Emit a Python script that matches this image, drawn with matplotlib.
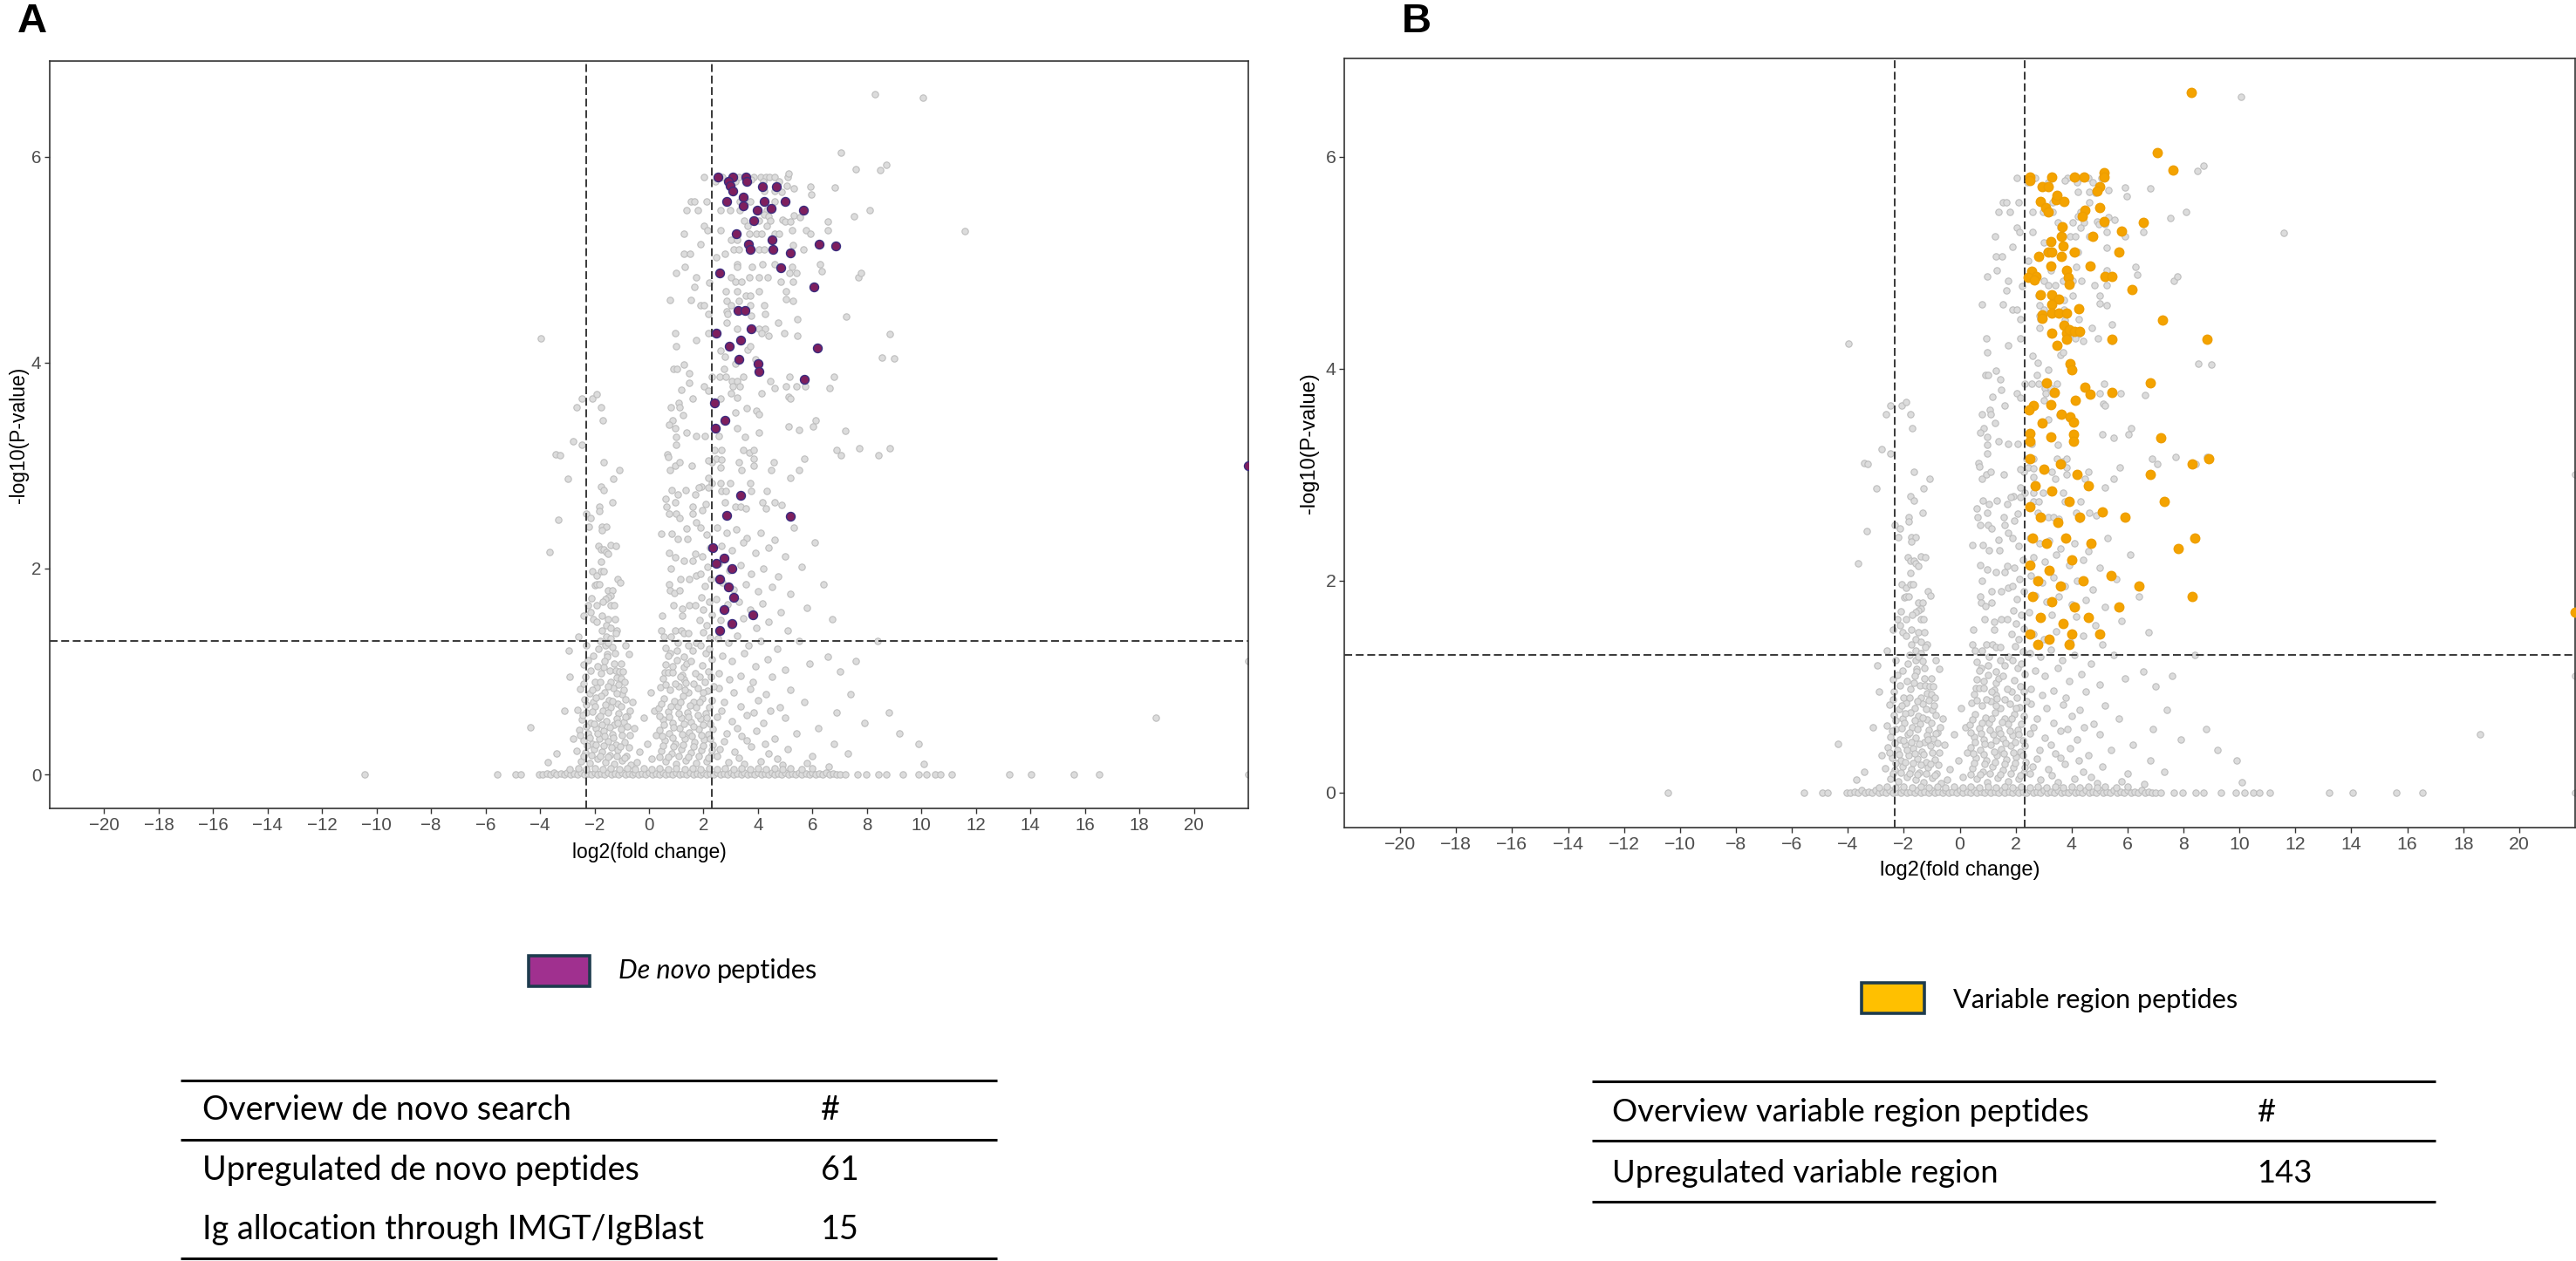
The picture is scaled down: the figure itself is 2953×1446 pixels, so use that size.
import numpy as np
import matplotlib
matplotlib.use("Agg")
import matplotlib.pyplot as plt
from matplotlib.patches import Rectangle
from matplotlib.lines import Line2D

# ---------------- data (log2 fold change, -log10 p) ----------------
grey_upper = [
    (8.28, 6.61), (10.07, 6.57), (7.04, 6.04), (7.59, 5.88), (8.50, 5.87), (8.72, 5.92), (11.59, 5.28),
    (2.03, 5.80), (4.09, 5.80), (4.30, 5.80), (4.42, 5.80), (5.08, 5.80), (5.12, 5.84), (2.70, 5.80),
    (3.30, 5.80), (3.85, 5.80), (4.60, 5.80),
    (2.43, 5.76), (3.18, 5.76), (3.76, 5.78), (4.19, 5.76), (4.76, 5.76),
    (5.05, 5.72), (5.31, 5.69), (5.91, 5.71), (6.82, 5.70),
    (4.22, 5.67), (4.62, 5.67), (4.86, 5.66), (5.96, 5.63),
    (1.53, 5.57), (1.67, 5.57), (2.10, 5.57), (3.33, 5.57), (3.73, 5.57), (4.62, 5.57),
    (1.38, 5.48), (1.79, 5.48), (2.61, 5.48), (2.97, 5.48), (3.33, 5.48), (4.33, 5.48), (8.10, 5.48), (7.52, 5.42),
    (4.22, 5.44), (4.40, 5.42), (5.31, 5.43), (5.55, 5.41), (4.91, 5.39),
    (3.50, 5.38), (4.04, 5.38), (4.45, 5.38), (4.98, 5.37), (5.19, 5.37), (6.55, 5.37),
    (2.03, 5.33), (2.14, 5.29), (3.61, 5.33), (4.33, 5.33),
    (1.27, 5.25), (2.61, 5.29), (3.01, 5.19), (3.22, 5.19), (3.68, 5.25), (3.93, 5.25), (4.12, 5.25),
    (4.62, 5.25), (4.76, 5.25), (5.24, 5.29), (5.77, 5.29), (5.91, 5.25), (6.55, 5.29),
    (1.89, 5.15), (1.28, 5.06), (1.50, 5.06), (2.46, 5.02),
    (2.79, 5.06), (3.11, 5.10), (3.30, 5.10), (4.04, 5.10), (4.22, 5.10), (5.68, 5.10), (5.27, 5.14),
    (3.22, 4.96), (3.25, 4.93), (3.79, 4.93), (4.16, 4.96), (4.62, 4.96), (5.24, 4.93), (6.29, 4.96), (6.34, 4.89),
    (1.31, 4.93), (0.99, 4.87), (1.74, 4.83), (2.22, 4.78), (1.67, 4.74),
    (3.01, 4.83), (3.18, 4.79), (3.40, 4.79), (3.68, 4.83), (4.04, 4.83), (4.36, 4.83), (4.83, 4.79),
    (5.27, 4.79), (5.17, 4.87), (5.41, 4.87), (7.67, 4.83), (7.78, 4.87),
    (2.82, 4.69), (3.25, 4.69), (4.04, 4.69), (5.02, 4.69), (5.27, 4.60),
    (3.54, 4.65), (3.73, 4.65), (3.30, 4.60), (2.84, 4.60), (3.01, 4.56), (3.73, 4.56), (4.22, 4.56), (5.02, 4.62),
    (0.78, 4.61), (1.53, 4.61), (1.89, 4.56), (2.03, 4.56),
    (2.86, 4.50), (2.89, 4.47), (3.76, 4.46), (4.26, 4.47), (7.24, 4.45),
    (2.17, 4.47), (2.86, 4.39), (4.73, 4.39), (5.44, 4.42),
    (0.95, 4.29), (2.17, 4.29), (1.74, 4.22), (3.25, 4.33), (4.04, 4.33), (4.26, 4.33), (4.12, 4.29),
    (4.40, 4.26), (4.95, 4.29), (5.44, 4.26), (8.83, 4.28), (-3.97, 4.24),
    (0.98, 4.16), (2.61, 4.12), (3.61, 4.13), (3.71, 4.16), (8.54, 4.05), (8.99, 4.04),
    (2.79, 4.06), (3.18, 3.99), (3.90, 4.03), (4.04, 3.99),
    (1.28, 3.98), (0.91, 3.94), (1.02, 3.94), (1.46, 3.90), (1.48, 3.80), (1.17, 3.74), (2.03, 3.77), (2.17, 3.73),
    (2.75, 3.94), (2.32, 3.86), (2.58, 3.86), (2.82, 3.86), (3.04, 3.82), (3.25, 3.82), (3.47, 3.86),
    (3.07, 3.77), (3.33, 3.77), (4.45, 3.82), (4.62, 3.75), (5.02, 3.77), (5.41, 3.77), (5.17, 3.86),
    (5.74, 3.77), (6.63, 3.75), (6.78, 3.86),
    (2.61, 3.65), (3.01, 3.70), (3.25, 3.66), (3.18, 3.52), (3.58, 3.56), (3.94, 3.53), (4.04, 3.50),
    (4.12, 3.70), (5.12, 3.67), (5.19, 3.65),
    (6.13, 3.44), (7.21, 3.34), (6.03, 3.38), (5.51, 3.35), (5.11, 3.38),
    (2.06, 3.29), (2.56, 3.29), (3.25, 3.36), (3.51, 3.28), (4.04, 3.32),
    (2.39, 3.15), (2.65, 3.15), (2.46, 3.07), (2.65, 3.06), (2.63, 2.98), (2.29, 3.03), (2.17, 3.05),
    (3.47, 3.15), (3.68, 3.13), (3.83, 3.15), (3.30, 3.03), (3.83, 3.07), (4.59, 3.03), (3.40, 2.96),
    (3.83, 3.00), (4.47, 2.96),
    (5.71, 3.07), (5.51, 2.96), (5.19, 2.88), (6.88, 3.15), (7.06, 3.10), (7.71, 3.17), (8.43, 3.10), (8.83, 3.17),
    (2.17, 2.88), (2.32, 2.83), (2.63, 2.83), (2.97, 2.83), (3.71, 2.83), (1.92, 2.80), (2.17, 2.79),
    (2.07, 2.63), (1.96, 2.57),
    (2.65, 2.75), (2.82, 2.75), (2.78, 2.64), (3.18, 2.60), (3.76, 2.75), (3.35, 2.60), (3.54, 2.58),
    (4.16, 2.64), (4.33, 2.75), (4.62, 2.64), (4.88, 2.62), (4.29, 2.58),
]

grey_left = [
    (-3.64, 2.16), (-3.32, 2.47), (-3.43, 3.11), (-3.28, 3.10), (-2.98, 2.87), (-2.80, 3.24),
    (-2.65, 3.57), (-2.48, 3.65), (-2.48, 3.20), (-2.60, 1.34),
    (-2.08, 3.65), (-1.92, 3.69), (-1.77, 3.57), (-1.70, 3.44), (-1.65, 3.03), (-1.30, 2.87), (-1.08, 2.96),
    (-1.77, 2.80), (-1.65, 2.76), (-1.34, 2.64), (-1.81, 2.60), (-1.81, 2.56),
    (-2.31, 2.53), (-2.13, 2.49), (-2.21, 2.41), (-1.73, 2.41), (-1.56, 2.41), (-1.73, 2.37),
    (-1.86, 2.22), (-1.77, 2.19), (-1.65, 2.19), (-1.56, 2.16), (-1.40, 2.23), (-1.22, 2.22), (-1.49, 2.14), (-1.77, 2.07),
    (-2.08, 1.97), (-1.91, 1.93), (-1.77, 1.97), (-1.68, 1.97), (-1.99, 1.84), (-1.91, 1.85), (-1.83, 1.85),
    (-1.14, 1.90), (-1.06, 1.86),
    (-1.49, 1.79), (-1.33, 1.79), (-1.40, 1.74), (-1.49, 1.72), (-1.59, 1.70), (-1.70, 1.68),
    (-2.10, 1.71), (-2.23, 1.64), (-1.91, 1.64), (-1.40, 1.64), (-1.29, 1.64),
    (-2.14, 1.58), (-2.04, 1.51), (-1.91, 1.48), (-1.73, 1.54), (-1.49, 1.51), (-1.25, 1.51), (-1.56, 1.45),
    (-1.40, 1.42), (-1.73, 1.40), (-1.17, 1.40), (-1.22, 1.37), (-1.56, 1.34), (-1.40, 1.32), (-2.39, 1.54),
    (-1.59, 1.25), (-1.49, 1.28), (-1.33, 1.24), (-1.54, 1.17), (-1.54, 1.14), (-0.74, 1.17), (-2.23, 1.11),
    (-2.39, 1.07), (-2.13, 1.01), (-1.65, 1.04), (-1.27, 1.08), (-1.01, 1.08), (-1.43, 1.01), (-1.22, 1.01),
    (-1.08, 1.00), (-0.95, 1.00), (-1.17, 0.94), (-1.01, 0.93), (-0.90, 0.90), (-1.40, 0.90), (-1.11, 0.87),
]

grey_middle = [
    (0.81, 3.57), (1.08, 3.61), (1.11, 3.57), (1.61, 3.65), (1.26, 3.49), (0.86, 3.44), (0.74, 3.40),
    (0.97, 3.36), (1.38, 3.32), (1.72, 3.29), (0.99, 3.28), (0.99, 3.20), (0.68, 3.11), (0.70, 3.08),
    (0.78, 2.96), (0.95, 3.00), (1.11, 3.03), (1.56, 3.00), (1.83, 2.79),
    (0.84, 2.76), (1.06, 2.72), (1.34, 2.76), (1.70, 2.72), (0.60, 2.68), (0.97, 2.64), (1.59, 2.60),
    (0.65, 2.60), (0.74, 2.53), (1.00, 2.53), (1.13, 2.49), (1.61, 2.53), (1.72, 2.45), (1.38, 2.39),
    (0.46, 2.34), (0.84, 2.34), (1.06, 2.29), (1.42, 2.29), (1.70, 2.14),
    (0.74, 2.15), (0.97, 2.11), (1.29, 2.08), (1.61, 2.08), (0.81, 2.00), (1.15, 1.90), (1.48, 1.90),
    (1.72, 1.93), (0.73, 1.85), (0.76, 1.79), (0.92, 1.76), (1.13, 1.79), (0.90, 1.64), (1.22, 1.61),
    (1.22, 1.54), (1.48, 1.64), (1.70, 1.64), (0.49, 1.54),
    (0.46, 1.40), (0.95, 1.40), (1.18, 1.40), (1.29, 1.37), (1.45, 1.37), (0.81, 1.34), (0.54, 1.34),
    (0.60, 1.23), (0.76, 1.18), (1.02, 1.20), (1.29, 1.14), (1.45, 1.25), (1.72, 1.28), (0.60, 1.07),
    (0.58, 0.99), (0.70, 0.99), (0.86, 0.99), (1.02, 1.11), (1.29, 1.04), (1.38, 1.08), (1.22, 0.97),
    (1.29, 0.92), (1.34, 0.89),
    (1.90, 2.40), (2.10, 2.33), (2.25, 2.20), (1.95, 2.12), (2.15, 2.02), (1.88, 1.95), (2.28, 1.90),
    (2.05, 1.83), (1.92, 1.72), (2.20, 1.68), (2.00, 1.60), (2.30, 1.55), (1.86, 1.50), (2.12, 1.45),
    (1.98, 1.38), (2.25, 1.33), (1.90, 1.25), (2.08, 1.18), (2.32, 1.12), (1.95, 1.06), (2.18, 1.00),
    (1.87, 0.95), (2.05, 0.90), (2.28, 0.95),
]

grey_right_lower = [
    (2.50, 2.40), (2.85, 2.35), (3.20, 2.38), (3.60, 2.30), (4.10, 2.35), (4.60, 2.28), (5.30, 2.40),
    (2.65, 2.22), (3.05, 2.18), (3.45, 2.25), (3.90, 2.15), (4.40, 2.20), (5.00, 2.12), (6.10, 2.25),
    (2.55, 2.05), (2.95, 1.98), (3.35, 2.03), (3.75, 1.95), (4.20, 2.00), (4.75, 1.92), (5.60, 2.02),
    (2.70, 1.86), (3.10, 1.80), (3.55, 1.85), (4.00, 1.78), (4.50, 1.82), (5.20, 1.75), (6.40, 1.85),
    (2.48, 1.70), (2.88, 1.65), (3.30, 1.68), (3.70, 1.60), (4.15, 1.66), (4.85, 1.58), (5.80, 1.62), (6.74, 1.51),
    (2.62, 1.50), (3.00, 1.45), (3.45, 1.52), (3.95, 1.42), (4.40, 1.48), (5.10, 1.40),
    (2.52, 1.32), (2.90, 1.28), (3.25, 1.35), (3.65, 1.25), (4.10, 1.30), (4.70, 1.22), (5.50, 1.30), (6.55, 1.14),
    (2.70, 1.15), (3.05, 1.10), (3.50, 1.18), (3.90, 1.05), (4.35, 1.12), (5.00, 1.02), (5.90, 1.08),
    (2.55, 0.98), (2.95, 0.92), (3.35, 0.96), (3.80, 0.90), (4.50, 0.95),
]

grey_low = [
    (-2.52, 0.83), (-2.18, 0.79), (-1.93, 0.85), (-1.62, 0.80), (-1.31, 0.84), (-0.98, 0.78),
    (-2.36, 0.73), (-2.04, 0.70), (-1.76, 0.76), (-1.47, 0.72), (-1.16, 0.69), (-0.86, 0.73),
    (-2.61, 0.63), (-2.29, 0.60), (-1.98, 0.66), (-1.71, 0.62), (-1.42, 0.65), (-1.12, 0.59), (-0.79, 0.57),
    (-2.47, 0.53), (-2.13, 0.50), (-1.86, 0.55), (-1.57, 0.52), (-1.27, 0.48), (-0.94, 0.51),
    (-2.56, 0.43), (-2.24, 0.40), (-1.96, 0.45), (-1.66, 0.42), (-1.36, 0.39), (-1.03, 0.44), (-0.72, 0.38),
    (-2.41, 0.33), (-2.09, 0.30), (-1.81, 0.35), (-1.52, 0.32), (-1.21, 0.29), (-0.89, 0.31),
    (-2.66, 0.23), (-2.33, 0.21), (-2.03, 0.25), (-1.74, 0.22), (-1.44, 0.19), (-1.14, 0.24), (-0.83, 0.18),
    (-2.49, 0.13), (-2.19, 0.11), (-1.89, 0.15), (-1.59, 0.12), (-1.29, 0.10), (-0.99, 0.14), (-0.68, 0.09),
    (-2.90, 0.95), (-3.10, 0.62), (-2.80, 0.35), (-3.40, 0.20), (-4.36, 0.46), (-3.70, 0.12), (-2.95, 1.20),
    (-0.55, 0.45), (-0.35, 0.22), (-0.20, 0.55), (-0.05, 0.30), (0.10, 0.15), (0.20, 0.62), (-0.45, 0.12),
    (0.05, 0.80), (-0.60, 0.70), (0.25, 0.38),
    (0.42, 0.85), (0.78, 0.82), (1.10, 0.86), (1.45, 0.80), (1.78, 0.84), (2.15, 0.81),
    (0.55, 0.74), (0.92, 0.71), (1.26, 0.76), (1.62, 0.70), (1.95, 0.74), (2.30, 0.72),
    (0.35, 0.64), (0.70, 0.61), (1.05, 0.66), (1.40, 0.60), (1.74, 0.65), (2.08, 0.59),
    (0.50, 0.53), (0.86, 0.50), (1.20, 0.55), (1.55, 0.51), (1.90, 0.54), (2.25, 0.49),
    (0.38, 0.43), (0.74, 0.40), (1.12, 0.45), (1.48, 0.41), (1.82, 0.44), (2.18, 0.39),
    (0.58, 0.33), (0.95, 0.30), (1.32, 0.35), (1.68, 0.31), (2.02, 0.34), (2.35, 0.29),
    (0.45, 0.23), (0.82, 0.20), (1.18, 0.25), (1.55, 0.21), (1.92, 0.24), (2.28, 0.19),
    (0.62, 0.13), (0.99, 0.10), (1.36, 0.14), (1.72, 0.11), (2.10, 0.13),
    (2.55, 0.84), (3.10, 0.80), (3.70, 0.83), (4.30, 0.78), (5.20, 0.82), (6.90, 0.60),
    (2.75, 0.70), (3.35, 0.66), (4.00, 0.72), (4.80, 0.65), (5.70, 0.70),
    (2.50, 0.56), (3.05, 0.52), (3.60, 0.58), (4.20, 0.50), (5.00, 0.55), (6.20, 0.45),
    (2.85, 0.40), (3.40, 0.37), (3.95, 0.42), (4.60, 0.35), (5.40, 0.40),
    (2.60, 0.25), (3.15, 0.22), (3.75, 0.27), (4.40, 0.20), (5.10, 0.25), (6.00, 0.18),
    (2.90, 0.12), (3.50, 0.10), (4.10, 0.13), (4.90, 0.09), (5.80, 0.11), (6.60, 0.08),
    (7.00, 1.00), (7.40, 0.78), (7.90, 0.50), (8.80, 0.60), (9.90, 0.30), (7.60, 1.10), (8.40, 1.30),
    (9.20, 0.40), (6.80, 0.30), (7.30, 0.20), (18.6, 0.55), (10.1, 0.10),
    (22.0, 1.10), (22.0, 3.00), (22.0, 0.00),
]

grey_low_dense = [
    (-2.35, 0.95), (-2.05, 1.15), (-1.85, 1.22), (-1.75, 0.98), (-1.62, 1.10), (-1.90, 1.05), (-2.00, 0.90),
    (-1.80, 1.30), (-2.30, 1.25), (-1.25, 1.18), (-0.85, 1.25),
    (-2.40, 0.88), (-2.08, 0.82), (-1.79, 0.90), (-1.52, 0.86), (-1.20, 0.79), (-0.92, 0.82),
    (-2.30, 0.68), (-1.95, 0.75), (-1.60, 0.68), (-1.33, 0.71), (-1.02, 0.66), (-0.70, 0.62),
    (-2.43, 0.58), (-2.07, 0.61), (-1.78, 0.57), (-1.50, 0.60), (-1.18, 0.54), (-0.86, 0.56),
    (-2.32, 0.47), (-2.02, 0.49), (-1.74, 0.48), (-1.45, 0.46), (-1.14, 0.50), (-0.80, 0.47),
    (-2.52, 0.38), (-2.17, 0.36), (-1.90, 0.40), (-1.62, 0.37), (-1.30, 0.36), (-0.98, 0.38),
    (-2.28, 0.28), (-1.96, 0.29), (-1.67, 0.28), (-1.38, 0.26), (-1.06, 0.27), (-0.75, 0.26),
    (-2.40, 0.18), (-2.10, 0.19), (-1.80, 0.18), (-1.50, 0.17), (-1.20, 0.18), (-0.90, 0.16),
    (0.50, 0.93), (0.85, 1.05), (1.15, 0.95), (1.55, 1.10), (1.70, 0.98), (2.20, 1.22), (1.60, 1.20),
    (1.05, 1.28), (0.70, 1.15),
    (0.60, 0.87), (0.95, 0.88), (1.30, 0.82), (1.62, 0.88), (2.00, 0.80), (2.38, 0.86),
    (0.45, 0.69), (0.80, 0.66), (1.15, 0.70), (1.50, 0.67), (1.85, 0.70), (2.20, 0.65),
    (0.40, 0.57), (0.75, 0.56), (1.08, 0.59), (1.44, 0.56), (1.78, 0.58), (2.12, 0.55),
    (0.55, 0.48), (0.90, 0.46), (1.28, 0.49), (1.63, 0.47), (1.98, 0.48), (2.33, 0.44),
    (0.48, 0.37), (0.85, 0.36), (1.22, 0.39), (1.58, 0.37), (1.92, 0.38), (2.25, 0.35),
    (0.52, 0.28), (0.90, 0.27), (1.25, 0.29), (1.62, 0.27), (1.98, 0.28), (2.32, 0.24),
    (0.38, 0.17), (0.72, 0.17), (1.08, 0.18), (1.45, 0.17), (1.82, 0.18), (2.18, 0.16),
    (2.65, 0.62), (3.25, 0.45), (3.85, 0.60), (4.45, 0.62), (2.75, 0.32), (3.60, 0.33), (4.25, 0.30),
    (2.50, 0.18), (3.30, 0.16), (4.70, 0.15),
]

grey_band = [
    (-10.43, 0.0), (-5.56, 0.0), (-4.90, 0.0), (-4.72, 0.0), (-4.05, 0.0), (-3.90, 0.0), (-3.75, 0.01),
    (-3.62, 0.0), (-3.50, 0.02), (-3.38, 0.0), (-3.25, 0.01), (-3.12, 0.0), (-3.00, 0.02), (-2.88, 0.0),
    (-2.75, 0.01), (-2.62, 0.0), (-2.50, 0.02), (-2.38, 0.0), (-2.25, 0.01), (-2.12, 0.0), (-2.00, 0.02),
    (-1.88, 0.0), (-1.75, 0.01), (-1.62, 0.0), (-1.50, 0.02), (-1.38, 0.0), (-1.25, 0.01), (-1.12, 0.0),
    (-1.00, 0.02), (-0.88, 0.0), (-0.75, 0.01), (-0.62, 0.0), (-0.50, 0.02), (-0.38, 0.0), (-0.25, 0.01),
    (-0.12, 0.0), (0.00, 0.02), (0.12, 0.0), (0.25, 0.01), (0.38, 0.0), (0.50, 0.02), (0.62, 0.0),
    (0.75, 0.01), (0.88, 0.0), (1.00, 0.02), (1.12, 0.0), (1.25, 0.01), (1.38, 0.0), (1.50, 0.02),
    (1.62, 0.0), (1.75, 0.01), (1.88, 0.0), (2.00, 0.02), (2.12, 0.0), (2.25, 0.01), (2.38, 0.0),
    (2.50, 0.02), (2.62, 0.0), (2.75, 0.01), (2.88, 0.0), (3.00, 0.02), (3.12, 0.0), (3.25, 0.01),
    (3.38, 0.0), (3.50, 0.02), (3.62, 0.0), (3.75, 0.01), (3.88, 0.0), (4.00, 0.02), (4.12, 0.0),
    (4.25, 0.01), (4.38, 0.0), (4.50, 0.02), (4.62, 0.0), (4.75, 0.01), (4.88, 0.0), (5.00, 0.02),
    (5.12, 0.0), (5.25, 0.01), (5.38, 0.0), (5.50, 0.02), (5.62, 0.0), (5.75, 0.01), (5.88, 0.0),
    (6.00, 0.02), (6.12, 0.0), (6.25, 0.01), (6.38, 0.0), (6.50, 0.02), (6.62, 0.0), (6.75, 0.01),
    (6.88, 0.0), (7.00, 0.0), (7.20, 0.0), (7.66, 0.0), (7.96, 0.0), (8.42, 0.0), (8.72, 0.0),
    (9.33, 0.0), (9.88, 0.0), (10.18, 0.0), (10.49, 0.0), (10.70, 0.0), (11.10, 0.0), (13.22, 0.0),
    (14.04, 0.0), (15.60, 0.0), (16.54, 0.0),
    (-2.90, 0.05), (-2.60, 0.06), (-2.30, 0.05), (-2.00, 0.06), (-1.70, 0.05), (-1.40, 0.06),
    (-1.10, 0.05), (-0.80, 0.06), (-0.50, 0.05), (-0.20, 0.06), (0.10, 0.05), (0.40, 0.06),
    (0.70, 0.05), (1.00, 0.06), (1.30, 0.05), (1.60, 0.06), (1.90, 0.05), (2.20, 0.06),
    (2.50, 0.05), (2.80, 0.06), (3.10, 0.05), (3.40, 0.06), (3.70, 0.05), (4.00, 0.06),
    (4.30, 0.05), (4.60, 0.06), (4.90, 0.05), (5.20, 0.06), (5.60, 0.05), (6.00, 0.06),
]

denovo_peptides = [
    (2.53, 5.80), (3.08, 5.80), (3.55, 5.80), (3.58, 5.76), (2.92, 5.76), (2.97, 5.72), (3.08, 5.67),
    (4.16, 5.71), (4.68, 5.71), (3.47, 5.61), (2.86, 5.57), (4.23, 5.57), (4.99, 5.57), (3.47, 5.52),
    (3.96, 5.48), (4.47, 5.50), (5.67, 5.48), (3.83, 5.38), (3.20, 5.25), (4.50, 5.19), (3.66, 5.15),
    (3.70, 5.10), (4.55, 5.10), (5.19, 5.07), (6.23, 5.15), (6.86, 5.13), (4.83, 4.92), (2.59, 4.87),
    (6.06, 4.74), (3.27, 4.51), (3.51, 4.51), (3.74, 4.33), (2.46, 4.29), (3.35, 4.22), (2.95, 4.16),
    (6.19, 4.14), (3.31, 4.03), (4.00, 3.99), (4.03, 3.91), (5.71, 3.84), (2.40, 3.61), (2.79, 3.44),
    (2.43, 3.36), (3.35, 2.71), (2.86, 2.52), (5.19, 2.51),
    (2.35, 2.20), (2.75, 2.10), (3.05, 2.00), (2.60, 1.90), (2.90, 1.82), (3.10, 1.72), (2.75, 1.60),
    (3.05, 1.47), (2.60, 1.40), (3.80, 1.55), (2.45, 2.05), (22.0, 3.00),
]

variable_region_peptides = [
    (8.28, 6.61), (7.05, 6.04), (7.62, 5.88),
    (2.52, 5.81), (2.52, 5.78), (3.30, 5.81), (4.10, 5.81), (4.44, 5.81), (5.15, 5.85), (5.15, 5.81),
    (2.96, 5.72), (3.15, 5.72), (5.01, 5.72), (4.90, 5.68),
    (2.90, 5.58), (3.44, 5.60), (3.72, 5.58), (3.49, 5.64),
    (3.06, 5.52), (3.15, 5.48), (4.48, 5.50), (4.39, 5.44), (5.01, 5.52), (5.17, 5.39), (6.57, 5.38),
    (3.66, 5.34), (5.77, 5.30), (3.63, 5.25), (4.77, 5.25), (3.25, 5.20), (3.68, 5.16),
    (3.15, 5.10), (3.30, 5.10), (4.10, 5.10), (2.83, 5.06), (3.64, 5.06), (5.70, 5.10),
    (3.25, 4.97), (4.67, 4.97),
    (2.58, 4.92), (2.73, 4.87), (2.45, 4.86), (2.68, 4.84), (3.82, 4.93), (3.87, 4.86), (3.91, 4.80),
    (5.20, 4.87), (5.43, 4.87),
    (6.15, 4.75), (2.88, 4.70), (3.30, 4.70), (3.53, 4.66), (3.30, 4.61),
    (2.96, 4.51), (2.96, 4.48), (3.30, 4.53), (3.53, 4.53), (3.82, 4.53), (4.25, 4.57), (7.24, 4.46),
    (3.72, 4.41), (3.82, 4.34), (3.91, 4.37), (4.10, 4.35), (4.29, 4.35), (3.82, 4.28), (3.30, 4.34),
    (5.43, 4.28), (8.85, 4.28),
    (3.49, 4.22), (3.95, 4.05), (4.01, 3.99), (3.11, 3.87), (3.38, 3.78), (4.48, 3.83), (4.67, 3.76),
    (5.43, 3.78), (6.82, 3.87),
    (2.62, 3.65), (2.49, 3.61), (3.25, 3.66), (4.14, 3.70), (3.63, 3.57), (3.95, 3.55), (4.06, 3.50), (2.96, 3.49),
    (2.52, 3.39), (2.52, 3.32), (3.25, 3.36), (4.06, 3.38), (4.06, 3.32), (7.20, 3.35),
    (2.50, 3.15), (3.00, 3.05), (3.60, 3.10), (4.20, 3.00), (2.70, 2.90), (3.30, 2.85), (4.60, 2.90),
    (2.50, 2.70), (3.90, 2.75), (2.90, 2.60), (3.50, 2.55), (4.30, 2.60), (5.10, 2.65), (2.60, 2.40),
    (3.10, 2.35), (3.80, 2.40), (4.70, 2.35), (2.50, 2.15), (3.20, 2.10), (4.00, 2.20), (2.80, 2.00),
    (3.60, 1.95), (4.40, 2.00), (5.40, 2.05), (2.60, 1.85), (3.30, 1.80), (4.10, 1.75), (2.90, 1.65),
    (3.70, 1.60), (4.60, 1.65), (2.50, 1.50), (3.20, 1.45), (4.00, 1.50), (5.00, 1.50), (2.80, 1.40),
    (3.90, 1.40),
    (5.90, 2.60), (6.40, 1.95), (5.70, 1.75), (7.30, 2.75), (7.80, 2.30), (8.40, 2.40), (8.30, 1.85),
    (8.30, 3.10), (8.90, 3.15), (6.80, 3.00), (22.0, 1.70),
]

FC_CUTOFF = 2.32      # log2(5)
P_CUTOFF = 1.30       # -log10(0.05)
x_ticks = list(range(-20, 21, 2))
y_ticks = [0, 2, 4, 6]

table_A = [("Overview de novo search", "#"),
           ("Upregulated de novo peptides", "61"),
           ("Ig allocation through IMGT/IgBlast", "15")]
table_B = [("Overview variable region peptides", "#"),
           ("Upregulated variable region", "143")]

# ---------------- figure ----------------
plt.rcParams["lines.scale_dashes"] = False
plt.rcParams["font.family"] = ["Liberation Sans", "DejaVu Sans"]

W, H = 2953, 1446
fig = plt.figure(figsize=(W / 100, H / 100), dpi=100)


def fx(px):
    return px / W


def fy(py):
    return 1 - py / H


grey_all = np.array(grey_upper + grey_left + grey_middle + grey_right_lower
                    + grey_low + grey_low_dense + grey_band)


def volcano(ax, hl, hface, hedge, hsize, fs_tick, fs_lab, xlab_y, ylab_x):
    ax.scatter(grey_all[:, 0], grey_all[:, 1], s=28, facecolor="#DCDCDC",
               edgecolor="#BDBDBD", linewidth=0.8, zorder=2)
    dash = (0, (6.5, 3.0))
    ax.axvline(-FC_CUTOFF, color="#383838", lw=1.4, linestyle=dash, zorder=3)
    ax.axvline(FC_CUTOFF, color="#383838", lw=1.4, linestyle=dash, zorder=3)
    ax.axhline(P_CUTOFF, color="#383838", lw=1.4, linestyle=dash, zorder=3)
    h = np.array(hl)
    ax.scatter(h[:, 0], h[:, 1], s=hsize, facecolor=hface, edgecolor=hedge,
               linewidth=1.0, zorder=4)
    ax.set_xlim(-22, 22)
    ax.set_ylim(-0.33, 6.93)
    ax.set_xticks(x_ticks)
    ax.set_yticks(y_ticks)
    ax.tick_params(length=4, width=1.0, color="#333333", labelcolor="#4D4D4D",
                   labelsize=fs_tick, pad=3)
    for sp in ax.spines.values():
        sp.set_color("#333333")
        sp.set_linewidth(1.2)
    ax.set_xlabel("log2(fold change)", fontsize=fs_lab)
    ax.set_ylabel("-log10(P-value)", fontsize=fs_lab)
    ax.xaxis.set_label_coords(0.5, xlab_y)
    ax.xaxis.label.set_va("center")
    ax.yaxis.set_label_coords(ylab_x, 0.5)
    ax.yaxis.label.set_va("center")


axA = fig.add_axes([fx(57), fy(927), (1431 - 57) / W, (927 - 70) / H])
axB = fig.add_axes([fx(1541), fy(949), (2952 - 1541) / W, (949 - 67) / H])

volcano(axA, denovo_peptides, "#7E1F5E", "#3B2C7E", 52, 14.8, 16.5,
        -(977 - 927) / 857, (22 - 57) / 1374)
volcano(axB, variable_region_peptides, "#F4A300", "#EE9E00", 57, 15.3, 17,
        -(998 - 949) / 882, (1501 - 1541) / 1411)

# panel letters
fig.text(fx(37), fy(25), "A", fontsize=34, fontweight="bold", ha="center", va="center")
fig.text(fx(1624), fy(25), "B", fontsize=34, fontweight="bold", ha="center", va="center")

renderer = fig.canvas.get_renderer()
TFONT = ["Lato", "DejaVu Sans"]


def size_for(s, target_w, style="normal"):
    t = fig.text(0, 0, s, fontsize=20, family=TFONT, style=style)
    w = t.get_window_extent(renderer=renderer).width
    t.remove()
    return 20 * target_w / w


# legends
def legend(x0, x1, y0, y1, face):
    fig.patches.append(Rectangle((fx(x0), fy(y1)), (x1 - x0) / W, (y1 - y0) / H,
                                 transform=fig.transFigure, facecolor=face,
                                 edgecolor="#1E3C4E", linewidth=2.6))


legend(2134, 2206, 1127, 1162, "#FFC000")
fsL = size_for("Variable region peptides", 328)
fig.text(fx(2239), fy(1147), "Variable region peptides", fontsize=fsL, family=TFONT,
         ha="left", va="center")

legend(606, 676, 1096, 1131, "#A0308F")
t1 = fig.text(fx(709), fy(1113), "De novo", fontsize=fsL, family=TFONT, style="italic",
              ha="left", va="center")
x_end = t1.get_window_extent(renderer=renderer).x1
fig.text((x_end + 0.24 * fsL * 100 / 72) / W, fy(1113), "peptides", fontsize=fsL,
         family=TFONT, ha="left", va="center")


# tables
def hline(x0, x1, y):
    fig.lines.append(Line2D([fx(x0), fx(x1)], [fy(y), fy(y)], transform=fig.transFigure,
                            color="black", linewidth=2.2, solid_capstyle="butt"))


fsB = size_for(table_B[0][0], 548)
for y in (1240, 1308, 1378):
    hline(1825, 2792, y)
for (lab, val), y in zip(table_B, (1275, 1345)):
    fig.text(fx(1848), fy(y), lab, fontsize=fsB, family=TFONT, ha="left", va="center")
    fig.text(fx(2587), fy(y), val, fontsize=fsB, family=TFONT, ha="left", va="center")

fsA = size_for(table_A[2][0], 575)
for y in (1239, 1307, 1443):
    hline(207, 1143, y)
for (lab, val), y in zip(table_A, (1273, 1342, 1410)):
    fig.text(fx(232), fy(y), lab, fontsize=fsA, family=TFONT, ha="left", va="center")
    fig.text(fx(941), fy(y), val, fontsize=fsA, family=TFONT, ha="left", va="center")

fig.savefig("out.png", dpi=100)
